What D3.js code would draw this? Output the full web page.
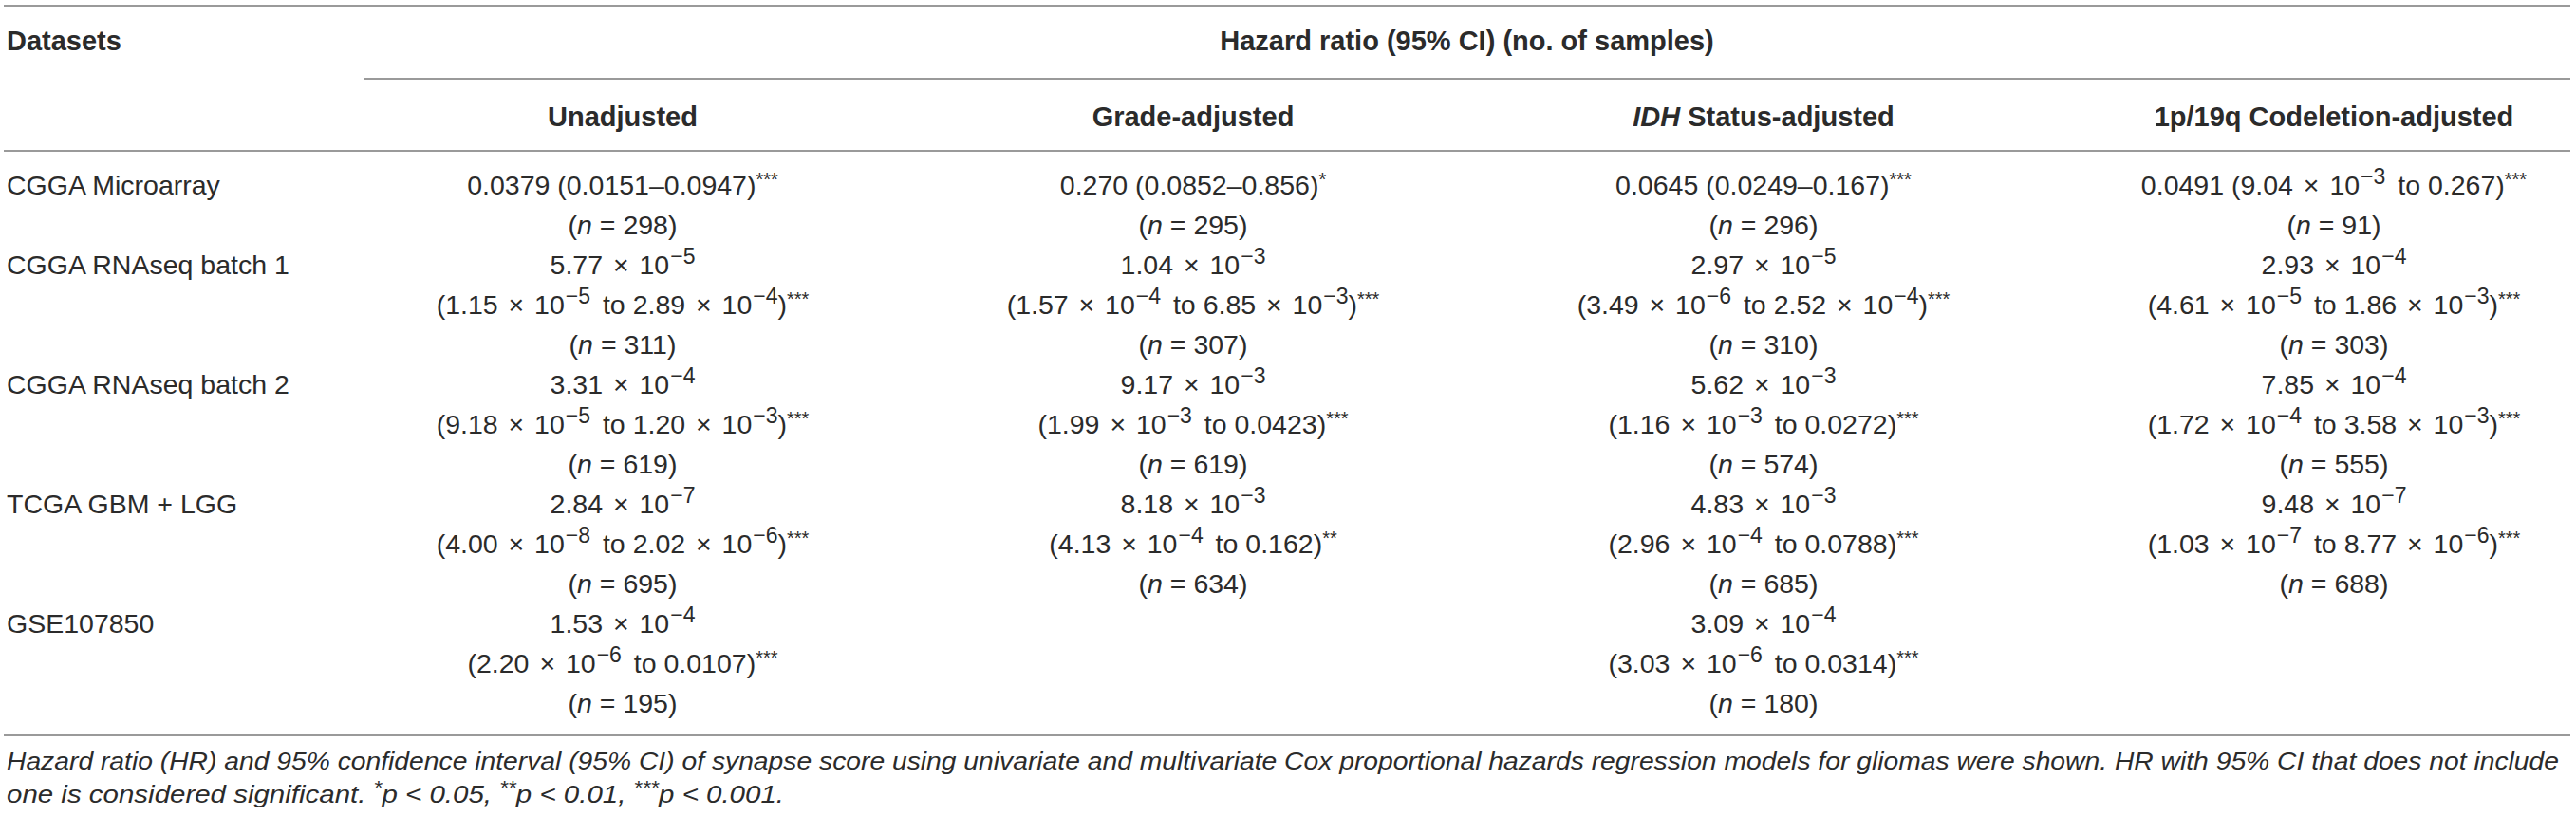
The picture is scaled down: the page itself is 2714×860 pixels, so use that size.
<!DOCTYPE html>
<html>
<head>
<meta charset="utf-8">
<script src="https://cdn.jsdelivr.net/npm/d3@7"></script>
<style>
  body { margin: 0; background: #fff; }
  svg text { font-family: "Liberation Sans", Arial, Helvetica, sans-serif; fill: #2b2b2b; }
</style>
</head>
<body>
<div id="table_hr"></div>
<script>
var WD = 2714, HT = 860

// table content
var datasets = ['CGGA Microarray', 'CGGA RNAseq batch 1', 'CGGA RNAseq batch 2', 'TCGA GBM + LGG', 'GSE107850']
var models = ['Unadjusted', 'Grade-adjusted', 'IDH Status-adjusted', '1p/19q Codeletion-adjusted']

// [HR, lower, upper, significance, n] per dataset
var unadjusted = [
  ['0.0379', '0.0151', '0.0947', '***', 298],
  ['5.77e-5', '1.15e-5', '2.89e-4', '***', 311],
  ['3.31e-4', '9.18e-5', '1.20e-3', '***', 619],
  ['2.84e-7', '4.00e-8', '2.02e-6', '***', 695],
  ['1.53e-4', '2.20e-6', '0.0107', '***', 195]
]
var gradeAdjusted = [
  ['0.270', '0.0852', '0.856', '*', 295],
  ['1.04e-3', '1.57e-4', '6.85e-3', '***', 307],
  ['9.17e-3', '1.99e-3', '0.0423', '***', 619],
  ['8.18e-3', '4.13e-4', '0.162', '**', 634],
  null
]
var idhAdjusted = [
  ['0.0645', '0.0249', '0.167', '***', 296],
  ['2.97e-5', '3.49e-6', '2.52e-4', '***', 310],
  ['5.62e-3', '1.16e-3', '0.0272', '***', 574],
  ['4.83e-3', '2.96e-4', '0.0788', '***', 685],
  ['3.09e-4', '3.03e-6', '0.0314', '***', 180]
]
var codelAdjusted = [
  ['0.0491', '9.04e-3', '0.267', '***', 91],
  ['2.93e-4', '4.61e-5', '1.86e-3', '***', 303],
  ['7.85e-4', '1.72e-4', '3.58e-3', '***', 555],
  ['9.48e-7', '1.03e-7', '8.77e-6', '***', 688],
  null
]
var columns = [unadjusted, gradeAdjusted, idhAdjusted, codelAdjusted]
// first row keeps HR and CI on one line
var rowLines = [2, 3, 3, 3, 3]

var footnote1 = 'Hazard ratio (HR) and 95% confidence interval (95% CI) of synapse score using univariate and multivariate Cox proportional hazards regression models for gliomas were shown. HR with 95% CI that does not include'

var FS = 28.5, BFS = 29, SUP_FS = 23, SUP_UP = 11, STAR_FS = 20, STAR_UP = 9
var lineH = 42

var svg = d3.select("#table_hr")
            .append("svg")
                .attr("width", WD)
                .attr("height", HT)

var x = d3.scalePoint().domain(models).range([656, 2459])
// y of a text line (counted from the first body line)
var y = d3.scaleLinear().domain([0, 1]).range([195, 195 + lineH])

var rowStart = d3.cumsum([0].concat(rowLines.slice(0, -1)))

// number -> segments, "5.77e-5" -> 5.77 × 10^−5
function num(s) {
  if (s.indexOf('e') < 0) return [{ t: s }]
  var p = s.split('e')
  return [{ t: p[0] + ' ' }, { t: '\u00d7 ', dx: 3 }, { t: '10', dx: 3 },
          { t: p[1].replace('-', '\u2212'), sup: true, dx: 1 }]
}
function isSci(s) { return s.indexOf('e') >= 0 }

function ciSegs(d) {
  var sci = isSci(d[1]) || isSci(d[2])
  var sep = sci ? [{ t: ' to ', dx: isSci(d[1]) ? 5 : 2 }] : [{ t: '\u2013' }]
  return [{ t: '(' }].concat(num(d[1]), sep, num(d[2]), [{ t: ')' }, { t: d[3], star: true }])
}
function nSegs(d) {
  return [{ t: '(' }, { t: 'n', it: true }, { t: ' = ' + d[4] + ')' }]
}

// write segments into a text element, handling raised parts
function writeSegs(sel, segs) {
  var up = 0
  segs.forEach(function(s) {
    var ts = sel.append('tspan').text(s.t)
    var target = s.sup ? SUP_UP : (s.star ? STAR_UP : 0)
    if (target !== up) { ts.attr('dy', up - target); up = target }
    if (s.dx) ts.attr('dx', s.dx)
    if (s.sup) ts.style('font-size', SUP_FS + 'px')
    if (s.star) ts.style('font-size', STAR_FS + 'px')
    if (s.it) ts.style('font-style', 'italic')
  })
}

function textLine(cx, cy, segs, anchor) {
  var t = svg.append('text')
      .attr('x', cx)
      .attr('y', cy + 10)
      .attr('text-anchor', anchor || 'middle')
      .style('font-size', FS + 'px')
  writeSegs(t, segs)
  return t
}

// rules
var rule = '#9a9a9a'
function hline(x1, x2, yy) {
  svg.append('line').attr('x1', x1).attr('x2', x2).attr('y1', yy).attr('y2', yy)
     .attr('stroke', rule).attr('stroke-width', 2)
}
hline(4, 2708, 6)
hline(383, 2708, 83)
hline(4, 2708, 159)
hline(4, 2708, 775)

// header
svg.append('text').attr('x', 7).attr('y', 53)
   .style('font-size', BFS + 'px').style('font-weight', 'bold')
   .text('Datasets')
svg.append('text').attr('x', (383 + 2708) / 2).attr('y', 53)
   .attr('text-anchor', 'middle')
   .style('font-size', BFS + 'px').style('font-weight', 'bold')
   .text('Hazard ratio (95% CI) (no. of samples)')

svg.selectAll('text.model')
   .data(models)
   .enter()
   .append('text')
      .attr('class', 'model')
      .attr('x', function(d) { return x(d) })
      .attr('y', 133)
      .attr('text-anchor', 'middle')
      .style('font-size', BFS + 'px')
      .style('font-weight', 'bold')
      .each(function(d) {
        var sel = d3.select(this)
        if (d.indexOf('IDH') === 0) {
          sel.append('tspan').style('font-style', 'italic').text('IDH')
          sel.append('tspan').text(d.slice(3))
        } else {
          sel.text(d)
        }
      })

// dataset labels
datasets.forEach(function(name, i) {
  textLine(7, y(rowStart[i]), [{ t: name }], 'start')
})

// body cells
columns.forEach(function(col, j) {
  var cx = x(models[j])
  col.forEach(function(d, i) {
    if (!d) return
    var l0 = rowStart[i]
    if (rowLines[i] === 2) {
      textLine(cx, y(l0), num(d[0]).concat([{ t: ' ' }], ciSegs(d)))
      textLine(cx, y(l0 + 1), nSegs(d))
    } else {
      textLine(cx, y(l0), num(d[0]))
      textLine(cx, y(l0 + 1), ciSegs(d))
      textLine(cx, y(l0 + 2), nSegs(d))
    }
  })
})

// footnote
svg.append('text').attr('x', 7).attr('y', 811)
   .style('font-size', '26px').style('font-style', 'italic')
   .attr('textLength', 2689).attr('lengthAdjust', 'spacingAndGlyphs')
   .text(footnote1)
var f2 = svg.append('text').attr('x', 7).attr('y', 846)
   .style('font-size', '26px').style('font-style', 'italic')
   .attr('textLength', 819).attr('lengthAdjust', 'spacingAndGlyphs')
writeSegs(f2, [
  { t: 'one is considered significant. ' }, { t: '*', star: true },
  { t: 'p < 0.05, ' }, { t: '**', star: true },
  { t: 'p < 0.01, ' }, { t: '***', star: true },
  { t: 'p < 0.001.' }
])
</script>
</body>
</html>
